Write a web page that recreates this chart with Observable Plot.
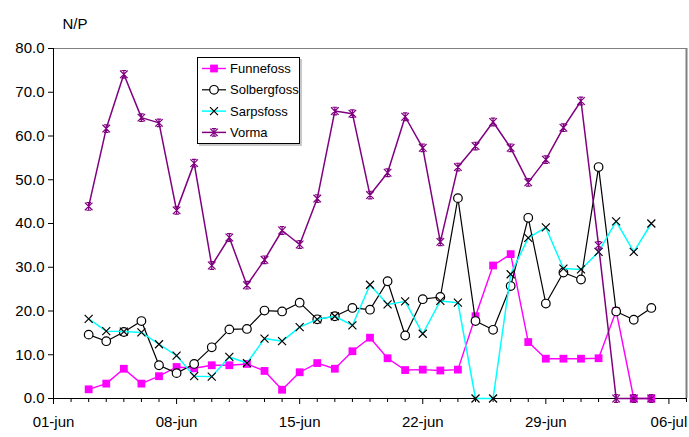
<!DOCTYPE html>
<html><head><meta charset="utf-8">
<script src="https://cdn.jsdelivr.net/npm/d3@7"></script>
<script src="https://cdn.jsdelivr.net/npm/@observablehq/plot@0.6"></script>
<style>
body{margin:0;background:#fff;}
#chart{position:relative;width:689px;height:437px;}
#legend{position:absolute;left:197px;top:57px;width:101px;height:85px;border:1px solid #000;background:#fff;box-shadow:2px 2px 0 #c8c8c8;}
#legend svg{display:block;font-family:"Liberation Sans",Arial,sans-serif;}
</style></head><body><div id="chart"><div id="legend"></div></div>
<script>
// ---- data (one value per day, 03-jun .. 05-jul) ----
const firstDay = "2000-06-03";
const lastDay = "2000-07-05";
const seriesNames = ["Funnefoss", "Solbergfoss", "Sarpsfoss", "Vorma"];
const funnefoss = [2.1,3.4,6.8,3.4,5.1,7.2,6.9,7.6,7.6,7.9,6.3,2.0,6.0,8.1,6.8,10.8,13.9,9.2,6.5,6.6,6.4,6.6,18.8,30.4,33.0,12.9,9.1,9.1,9.1,9.2,20.0,0,0];
const solbergfoss = [14.6,13.1,15.2,17.7,7.6,5.8,7.9,11.7,15.8,15.9,20.1,19.9,21.9,18.1,18.8,20.7,20.3,26.8,14.4,22.7,23.2,45.8,17.7,15.7,25.7,41.3,21.7,28.8,27.2,52.9,19.9,18.0,20.7];
const sarpsfoss = [18.2,15.4,15.3,15.1,12.4,9.8,5.1,5.0,9.5,8.1,13.7,13.1,16.3,18.1,18.8,16.7,26.0,21.5,22.2,14.8,22.3,21.9,0,0,28.4,36.7,39.1,29.7,29.5,33.5,40.5,33.5,40.0];
const vorma = [43.9,61.7,74.1,64.2,63.0,43.0,53.8,30.4,36.8,25.9,31.7,38.4,35.2,45.7,65.7,65.1,46.5,51.6,64.4,57.3,35.8,52.9,57.7,63.2,57.3,49.4,54.6,61.9,68.0,35.0,0,0,0];
const xDomain = ["2000-06-01", "2000-07-07"];
const xTickLabels = ["01-jun", "08-jun", "15-jun", "22-jun", "29-jun", "06-jul"];
const yTicks = [0, 10, 20, 30, 40, 50, 60, 70, 80];
const yLabel = "N/P";

// ---- helpers ----
const parse = s => new Date(s + "T00:00:00Z");
const days = d3.utcDay.range(parse(firstDay), d3.utcDay.offset(parse(lastDay), 1));
const x0 = parse(xDomain[0]), x1 = parse(xDomain[1]);
const allDays = d3.utcDay.range(x0, d3.utcDay.offset(x1, 1));
const majorDays = allDays.filter((d, i) => i % 7 === 0).slice(0, xTickLabels.length);
const labelOf = new Map(majorDays.map((d, i) => [+d, xTickLabels[i]]));

const valuesBySeries = [funnefoss, solbergfoss, sarpsfoss, vorma];
const tables = valuesBySeries.map(vals => vals.map((v, i) => ({date: days[i], value: v})));

const symTimes = {draw(ctx, size) {const r = Math.sqrt(size / Math.PI); ctx.moveTo(-r, -r); ctx.lineTo(r, r); ctx.moveTo(-r, r); ctx.lineTo(r, -r);}};
const symStar = {draw(ctx, size) {const r = Math.sqrt(size / Math.PI); const c = r * 0.6;
  ctx.moveTo(-r, -r); ctx.lineTo(r, r); ctx.moveTo(-r, r); ctx.lineTo(r, -r);
  ctx.moveTo(0, -r); ctx.lineTo(0, r); ctx.moveTo(-c, -r); ctx.lineTo(c, -r); ctx.moveTo(-c, r); ctx.lineTo(c, r);}};

const styles = [
  {stroke: "#ff00ff", symbol: "square", r: 4.4, fill: "#ff00ff", mstroke: "none", sw: 1.4},
  {stroke: "#000000", symbol: "circle", r: 4.3, fill: "#ffffff", mstroke: "#000000", sw: 1.2},
  {stroke: "#00ffff", symbol: symTimes, r: 4.0, fill: "none", mstroke: "#000000", sw: 1.5},
  {stroke: "#800080", symbol: symStar, r: 3.8, fill: "none", mstroke: "#800080", sw: 1.5}
];

const marks = [
  Plot.ruleY([yTicks[yTicks.length - 1]], {stroke: "#808080", strokeWidth: 1}),
  Plot.ruleX([x1], {stroke: "#808080", strokeWidth: 2}),
  Plot.axisY({ticks: yTicks, tickSize: 5, tickPadding: 4, tickFormat: d3.format(".1f"), fontSize: 15, label: null}),
  Plot.axisX({ticks: allDays.filter(d => !labelOf.has(+d)), tickSize: 4, tickFormat: () => "", label: null}),
  Plot.axisX({ticks: majorDays, tickSize: 6, tickPadding: 12, tickFormat: d => labelOf.get(+d), fontSize: 15, label: null}),
  Plot.ruleY([0], {stroke: "#000"}),
  Plot.ruleX([x0], {stroke: "#000"}),
  Plot.text([yLabel], {frameAnchor: "top-left", dx: 9, dy: -30, textAnchor: "start", fontSize: 15})
];
tables.forEach((t, k) => {
  const s = styles[k];
  marks.push(Plot.line(t, {x: "date", y: "value", stroke: s.stroke, strokeWidth: s.sw}));
  marks.push(Plot.dot(t, {x: "date", y: "value", symbol: s.symbol, r: s.r, fill: s.fill, stroke: s.mstroke, strokeWidth: 1.2}));
});

const chart = Plot.plot({
  width: 689, height: 437,
  marginLeft: 53, marginRight: 3, marginTop: 48, marginBottom: 39,
  x: {type: "utc", domain: [x0, x1]},
  y: {domain: [0, 80]},
  style: {fontFamily: "'Liberation Sans', Arial, sans-serif", fontSize: "15px", color: "#000", background: "#fff", overflow: "visible"},
  marks
});
const host = document.getElementById("chart");
host.insertBefore(chart, host.firstChild);

// ---- legend (HTML overlay) ----
const lsvg = d3.select("#legend").append("svg").attr("width", 101).attr("height", 85);
seriesNames.forEach((name, k) => {
  const s = styles[k];
  const yy = 10.5 + k * 21.3;
  lsvg.append("line").attr("x1", 4).attr("x2", 28).attr("y1", yy).attr("y2", yy)
    .style("stroke", s.stroke).style("stroke-width", s.sw);
  const sym = typeof s.symbol === "string" ? (s.symbol === "square" ? d3.symbolSquare : d3.symbolCircle) : s.symbol;
  lsvg.append("path").attr("transform", `translate(16,${yy})`).attr("d", d3.symbol(sym, Math.PI * s.r * s.r)())
    .style("fill", s.fill).style("stroke", s.mstroke).style("stroke-width", 1.2);
  lsvg.append("text").attr("x", 32).attr("y", yy).attr("dy", "0.35em")
    .style("font-size", "13px").style("fill", "#000").style("text-anchor", "start").text(name);
});
</script></body></html>
